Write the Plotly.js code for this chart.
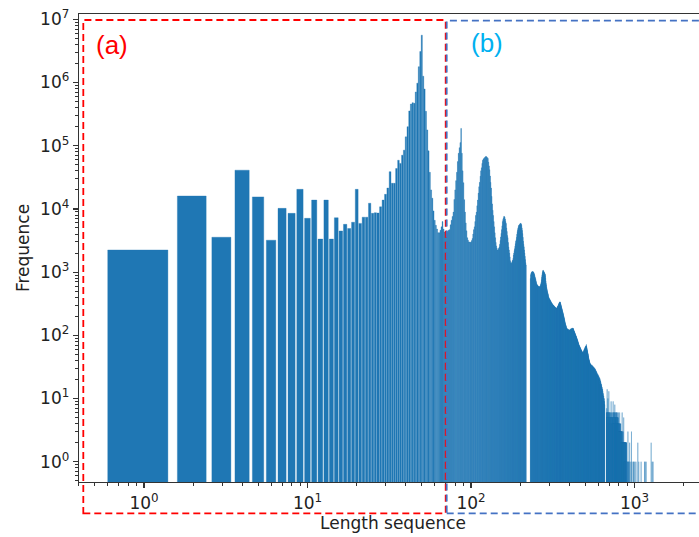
<!DOCTYPE html>
<html><head><meta charset="utf-8">
<script src="https://cdn.plot.ly/plotly-3.0.1.min.js"></script>
<style>html,body{margin:0;padding:0;overflow:hidden;background:#fff;}#chart{width:707px;height:537px;}</style>
</head><body><div id="chart"></div>
<script>
// Frequencies for lengths 1..660 (null = no sequence of that length)
const denseStart = 1;
const freqDense = [
2240,16000,3560,41000,15500,3200,10200,8500,20400,7100,
13800,3330,13800,3330,7250,4480,5700,4900,6150,20400,
5900,7400,7400,12300,8500,8700,8600,10800,13800,17000,
21400,38900,25400,25400,43600,58900,52500,70800,85100,138000,
200000,355000,457000,479000,468000,708000,977000,1780000,3090000,5620000,
1260000,790000,350000,178000,83000,38000,20000,14800,9300,6600,
5500,4800,4200,4200,4600,5200,6300,4800,4300,4200,
4100,4400,4600,4700,5600,6600,7600,8900,14100,20000,
28000,38000,56000,76000,93000,112000,188000,76000,40000,26000,
14000,8900,6000,4500,3500,3200,3000,3000,2950,3000,
3150,3400,4000,4700,5200,6300,7900,8900,11200,13800,
17800,22400,26300,33000,40000,44700,52500,58900,61700,63000,
64600,66100,67600,67600,66100,64600,63000,55000,47900,41700,
33100,26300,21400,15800,12000,9500,7900,6300,5200,4200,
3500,2950,2600,2400,2240,2240,2290,2400,2500,2750,
3160,3600,4100,4700,5400,6300,6800,7200,7600,7600,
7400,6900,6300,5900,5000,4400,3800,3500,2950,2500,
2240,2000,1740,1510,1410,1380,1380,1450,1510,1550,
1660,1860,2000,2190,2340,2570,2820,3090,3240,3550,
3980,4370,4680,5000,5250,5500,5560,5620,5750,5900,
5900,5900,5750,5500,5000,4570,4070,3550,3090,2750,
2510,2240,2000,1780,1580,1410,1300,null,null,null,
null,null,null,null,null,null,null,null,null,null,
794,912,955,980,1000,1010,1023,1020,1015,1010,
1000,980,955,930,900,850,820,790,760,720,
690,660,640,630,620,615,605,595,590,589,
585,585,590,589,600,620,640,660,700,760,
830,890,950,1000,1050,1070,1060,1040,1020,1000,
980,960,940,930,880,800,720,660,620,580,
550,525,500,480,465,450,430,410,400,390,
382,376,371,366,361,354,349,343,338,331,
327,322,318,315,311,307,304,301,299,296,
294,291,289,286,283,280,279,277,274,272,
270,268,268,269,271,275,279,283,287,291,
295,300,306,312,318,323,328,333,336,339,
336,330,321,312,302,293,285,278,270,262,
255,248,241,234,228,222,216,209,202,196,
190,185,179,172,166,161,156,152,148,145,
142,139,134,129,131,127,125,128,124,126,
123,121,125,122,118,124,120,117,122,119,
121,120,118,123,125,119,124,127,122,126,
125,128,124,130,127,126,131,128,125,129,
129,126,128,124,121,119,117,116,114,112,
110,109,107,105,103,102,100,99,97,96,
95,93,91,90,88,87,85,84,83,81,
79,78,76,75,74,72,71,70,69,68,
67,66,66,65,64,63,62,62,61,60,
59,59,58,58,57,56,56,55,55,54,
53,53,52,52,52,53,54,55,56,57,
58,59,60,60,61,60,62,64,63,65,
66,64,67,68,66,69,68,72,67,65,
63,61,59,58,56,55,53,52,51,50,
48,47,46,44,43,42,41,40,40,39,
38,37,37,36,36,35,35,35,34,35,
34,33,34,33,34,33,32,33,34,32,
33,32,31,33,32,31,32,30,31,32,
31,30,31,29,30,31,30,29,30,28,
29,30,28,29,27,28,29,27,26,28,
26,27,25,26,27,25,24,26,25,24,
25,23,24,23,24,22,23,24,22,23,
22,21,23,21,22,20,21,22,20,21,
20,19,21,19,18,20,19,18,17,19,
17,18,16,17,15,16,17,15,16,14,
15,14,13,15,14,13,12,14,12,13,
12,11,12,10,11,9,10,11,9,10,
9,8,10,9,8,7,8,null,null,null
];
// Frequencies for lengths 674..893
const midStart = 674;
const freqMid = [
6,5,7,6,5,6,14,5,6,5,
6,5,5,6,10,5,6,5,4,6,
5,6,5,13,5,6,5,5,6,4,
5,6,5,5,4,6,5,5,4,5,
6,5,4,5,5,9,5,4,5,6,
5,4,5,5,4,6,5,4,5,4,
5,5,4,6,5,4,9,5,4,5,
6,5,4,6,5,5,4,6,5,4,
5,6,4,5,8,5,4,6,5,4,
5,4,6,5,4,5,5,4,6,5,
4,5,6,4,5,4,6,5,4,5,
4,5,4,6,4,5,4,4,5,4,
4,5,4,4,6,4,3,4,4,3,
4,3,4,3,3,4,3,6,3,4,
3,3,4,3,3,3,4,3,3,4,
3,3,2,3,3,2,3,3,2,3,
2,3,2,2,3,2,6,2,2,3,
2,2,2,3,2,2,2,2,3,2,
2,2,2,2,2,5,2,2,2,2,
2,2,2,2,1,2,2,2,2,2,
2,1,2,2,2,2,1,2,2,2,
2,2,1,2,2,2,1,2,2,1
];
// Sparse long-length tail
const tailLengths = [897,903,908,912,915,921,927,934,941,958,965,983,990,1004,1021,1048,1062,1097,1151,1163,1178,1264,1282,1298];
const tailFreqs   = [1,1,1,3,1,1,1,2,1,3,1,1,1,1,1,2,1,1,1,1,1,2,1,1];

const xTickVals = [1,10,100,1000];
const xTickText = ['10<sup>0</sup>','10<sup>1</sup>','10<sup>2</sup>','10<sup>3</sup>'];
const yTickVals = [1,10,100,1000,1e4,1e5,1e6,1e7];
const yTickText = ['10<sup>0</sup>','10<sup>1</sup>','10<sup>2</sup>','10<sup>3</sup>','10<sup>4</sup>','10<sup>5</sup>','10<sup>6</sup>','10<sup>7</sup>'];

const lengths = [], freqs = [];
freqDense.forEach((v,i)=>{ lengths.push(denseStart+i); freqs.push(v); });
freqMid.forEach((v,i)=>{ lengths.push(midStart+i); freqs.push(v); });
tailLengths.forEach((l,i)=>{ lengths.push(l); freqs.push(tailFreqs[i]); });

function minorVals(lo, hi){
  const out=[];
  for(let e=lo;e<=hi;e++){ for(let m=2;m<=9;m++){ out.push(m*Math.pow(10,e)); } }
  return out;
}
const xMinor = minorVals(-1,3);
const yMinor = minorVals(-1,6);

const W=707, H=537, ML=79, MR=0, MT=14, MB=55;
const PW=W-ML-MR, PH=H-MT-MB;
const px2x = p => (p-ML)/PW;
const px2y = p => (H-MB-p)/PH;

const axisCommon = {
  type:'log', tickmode:'array', ticks:'outside', ticklen:5, tickwidth:1.2, tickcolor:'#333',
  showline:true, linecolor:'#333', linewidth:1.3, showgrid:false, zeroline:false, automargin:false,
  tickfont:{family:'DejaVu Sans', size:17, color:'#222'}
};

const trace = {
  type:'bar', x:lengths, y:freqs, width:0.8,
  marker:{color:'#1f77b4', line:{width:0.35, color:'#1f77b4'}}, hoverinfo:'skip'
};

const layout = {
  width:W, height:H, margin:{l:ML,r:MR,t:MT,b:MB,pad:0},
  paper_bgcolor:'#fff', plot_bgcolor:'#fff', showlegend:false, bargap:0.2,
  font:{family:'DejaVu Sans', size:17, color:'#222'},
  xaxis:Object.assign({}, axisCommon, {
    range:[-0.3976, 3.4434], tickvals:xTickVals, ticktext:xTickText, mirror:true,
    minor:{tickvals:xMinor, ticks:'outside', ticklen:3, tickwidth:1, tickcolor:'#333', showgrid:false},
    title:{text:'Length sequence', font:{family:'DejaVu Sans', size:17, color:'#222'}, standoff:5}
  }),
  yaxis:Object.assign({}, axisCommon, {
    range:[-0.321, 7.084], tickvals:yTickVals, ticktext:yTickText,
    minor:{tickvals:yMinor, ticks:'outside', ticklen:3, tickwidth:1, tickcolor:'#333', showgrid:false},
    title:{text:'Frequence', font:{family:'DejaVu Sans', size:17, color:'#222'}, standoff:6}
  }),
  shapes:[
    {type:'rect', xref:'paper', yref:'paper', x0:px2x(83.3), x1:px2x(445.7), y0:px2y(513.3), y1:px2y(20),
     line:{color:'#ff0000', width:1.8, dash:'7px,4px'}, fillcolor:'rgba(0,0,0,0)', layer:'above'},
    {type:'rect', xref:'paper', yref:'paper', x0:px2x(446.7), x1:px2x(706), y0:px2y(513.3), y1:px2y(20.7),
     line:{color:'#4472c4', width:1.8, dash:'7px,4px'}, fillcolor:'rgba(0,0,0,0)', layer:'above'}
  ],
  annotations:[
    {text:'(a)', xref:'paper', yref:'paper', x:px2x(111.7), y:px2y(45), xanchor:'center', yanchor:'middle',
     showarrow:false, font:{family:'Liberation Sans', size:26, color:'#ff0000'}},
    {text:'(b)', xref:'paper', yref:'paper', x:px2x(487), y:px2y(43), xanchor:'center', yanchor:'middle',
     showarrow:false, font:{family:'Liberation Sans', size:26, color:'#00b0f0'}}
  ]
};

Plotly.newPlot('chart', [trace], layout, {staticPlot:true, displayModeBar:false});
</script>
</body></html>
